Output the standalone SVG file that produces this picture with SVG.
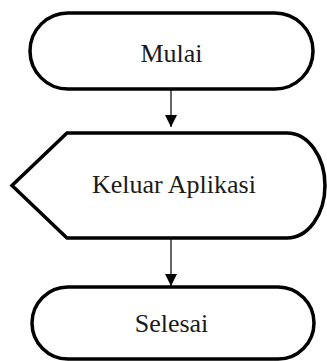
<svg xmlns="http://www.w3.org/2000/svg" width="327" height="361" viewBox="0 0 327 361">
  <style>
    .shape { fill: #ffffff; stroke: #000000; stroke-width: 3.5; }
    .label { font-family: "Liberation Serif", "Times New Roman", serif; font-size: 26px; fill: #1a1a1a; text-anchor: middle; }
    .edge { stroke: #000000; stroke-width: 1.2; fill: none; }
  </style>
  <defs>
    <marker id="arrow" viewBox="0 0 12 12" refX="12" refY="6" markerWidth="12" markerHeight="12" markerUnits="userSpaceOnUse" orient="auto">
      <path d="M0,0 L12,6 L0,12 Z" fill="#000000"/>
    </marker>
  </defs>
  <rect width="327" height="361" fill="#ffffff"/>

  <g id="connectors">
    <line class="edge" x1="171" y1="89" x2="171" y2="127" marker-end="url(#arrow)"/>
    <line class="edge" x1="171" y1="238" x2="171" y2="286" marker-end="url(#arrow)"/>
  </g>

  <g id="mulai">
    <rect class="shape" x="30" y="13" width="283" height="76" rx="38" ry="38"/>
    <text class="label" x="171.5" y="61.5">Mulai</text>
  </g>

  <g id="keluar-aplikasi">
    <path class="shape" d="M67,133 L287,133 A38,52.5 0 0 1 287,238 L67,238 L12,185.5 Z"/>
    <text class="label" x="174" y="193">Keluar Aplikasi</text>
  </g>

  <g id="selesai">
    <rect class="shape" x="32" y="287" width="282" height="72" rx="36" ry="36"/>
    <text class="label" x="171.5" y="331.5">Selesai</text>
  </g>
</svg>
